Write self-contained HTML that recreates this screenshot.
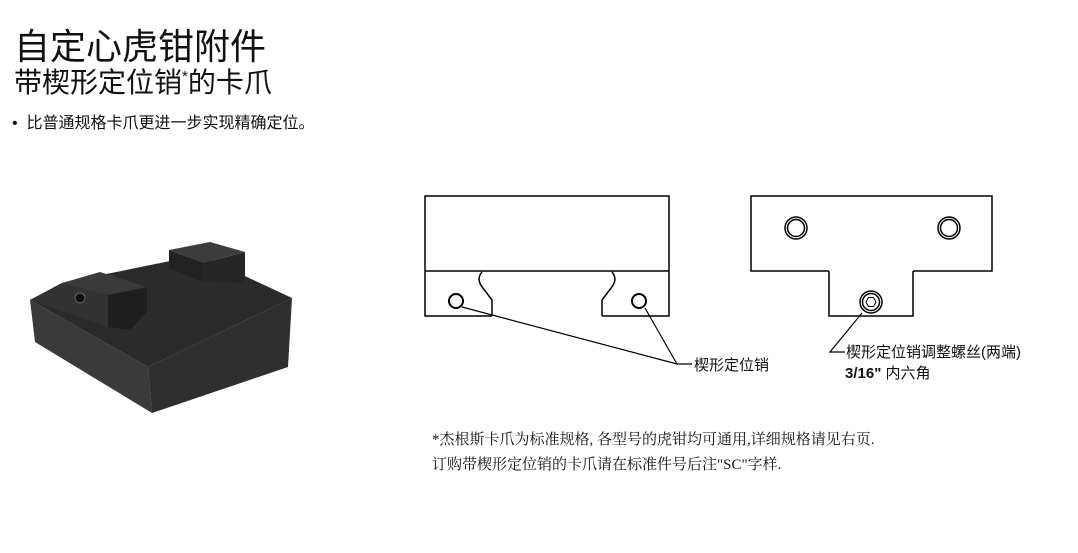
<!DOCTYPE html>
<html><head><meta charset="utf-8"><style>
html,body{margin:0;padding:0;background:#fff;width:1078px;height:553px;overflow:hidden;position:relative}
.t{position:absolute;white-space:nowrap;color:#111;font-family:"Liberation Sans","Noto Sans CJK SC",sans-serif;line-height:1}
.s{font-family:"Liberation Serif","Noto Serif CJK SC",serif}
</style></head><body>
<div class="t" style="left:14px;top:29px;font-size:36px">自定心虎钳附件</div>
<div class="t" style="left:14px;top:69px;font-size:28px">带楔形定位销<span style="font-size:15px;vertical-align:top">*</span>的卡爪</div>
<div class="t" style="left:12px;top:116px;font-size:16px">•&nbsp; 比普通规格卡爪更进一步实现精确定位。</div>

<svg width="1078" height="553" style="position:absolute;left:0;top:0">
<polygon points="30,300 148,367 152,413 35,342" fill="#3a3a3a"/>
<polygon points="148,367 292,298 288,367 152,413" fill="#2f2f2f"/>
<polygon points="30,300 62,283 200,255 292,298 148,367" fill="#2b2b2b"/>
<polygon points="62,283 108,295 108,327 30,300" fill="#323232"/>
<polygon points="108,295 147,287 147,312 130,330 108,327" fill="#1e1e1e"/>
<polygon points="62,283 100,272 147,287 108,295" fill="#3a3a3a"/>
<polygon points="169,250 203,263 203,282 169,268" fill="#222"/>
<polygon points="203,263 245,252 245,283 203,282" fill="#262626"/>
<polygon points="169,250 210,242 245,252 203,263" fill="#3c3c3c"/>
<circle cx="80" cy="298" r="5" fill="#111" stroke="#666"/>
<g fill="none" stroke="#000" stroke-width="1.5">
<polyline points="492,316 425,316 425,196 669,196 669,316 602,316"/>
<line x1="425" y1="271" x2="669" y2="271"/>
<path d="M482,272 C476,279 480,285 486,292 L492,300 L492,316"/>
<path d="M612,272 C618,279 614,285 608,292 L602,300 L602,316"/>
<circle cx="456" cy="301" r="7" stroke-width="2"/>
<circle cx="639" cy="301" r="7" stroke-width="2"/>
<polyline points="462,307 677,364 692,364" stroke-width="1.2"/>
<line x1="645" y1="308" x2="677" y2="364" stroke-width="1.2"/>
<polyline points="829,271 751,271 751,196 992,196 992,271 913,271"/>
<polyline points="829,271 829,316 913,316 913,271"/>
<circle cx="796" cy="228" r="11"/><circle cx="796" cy="228" r="8.5"/>
<circle cx="949" cy="228" r="11"/><circle cx="949" cy="228" r="8.5"/>
<circle cx="871" cy="302" r="11"/><circle cx="871" cy="302" r="8.5"/>
<polygon points="866,302 868.5,297.5 873.5,297.5 876,302 873.5,306.5 868.5,306.5" stroke-width="1"/>
<polyline points="862,313 830,352 845,352" stroke-width="1.2"/>
</g>
</svg>
<div class="t" style="left:694px;top:358px;font-size:15px">楔形定位销</div>
<div class="t" style="left:846px;top:345px;font-size:15px">楔形定位销调整螺丝(两端)</div>
<div class="t" style="left:845px;top:366px;font-size:15px"><b>3/16"</b> 内六角</div>
<div class="t s" style="left:432px;top:433px;font-size:15px">*杰根斯卡爪为标准规格, 各型号的虎钳均可通用,详细规格请见右页.</div>
<div class="t s" style="left:432px;top:458px;font-size:15px">订购带楔形定位销的卡爪请在标准件号后注"SC"字样.</div>
</body></html>
